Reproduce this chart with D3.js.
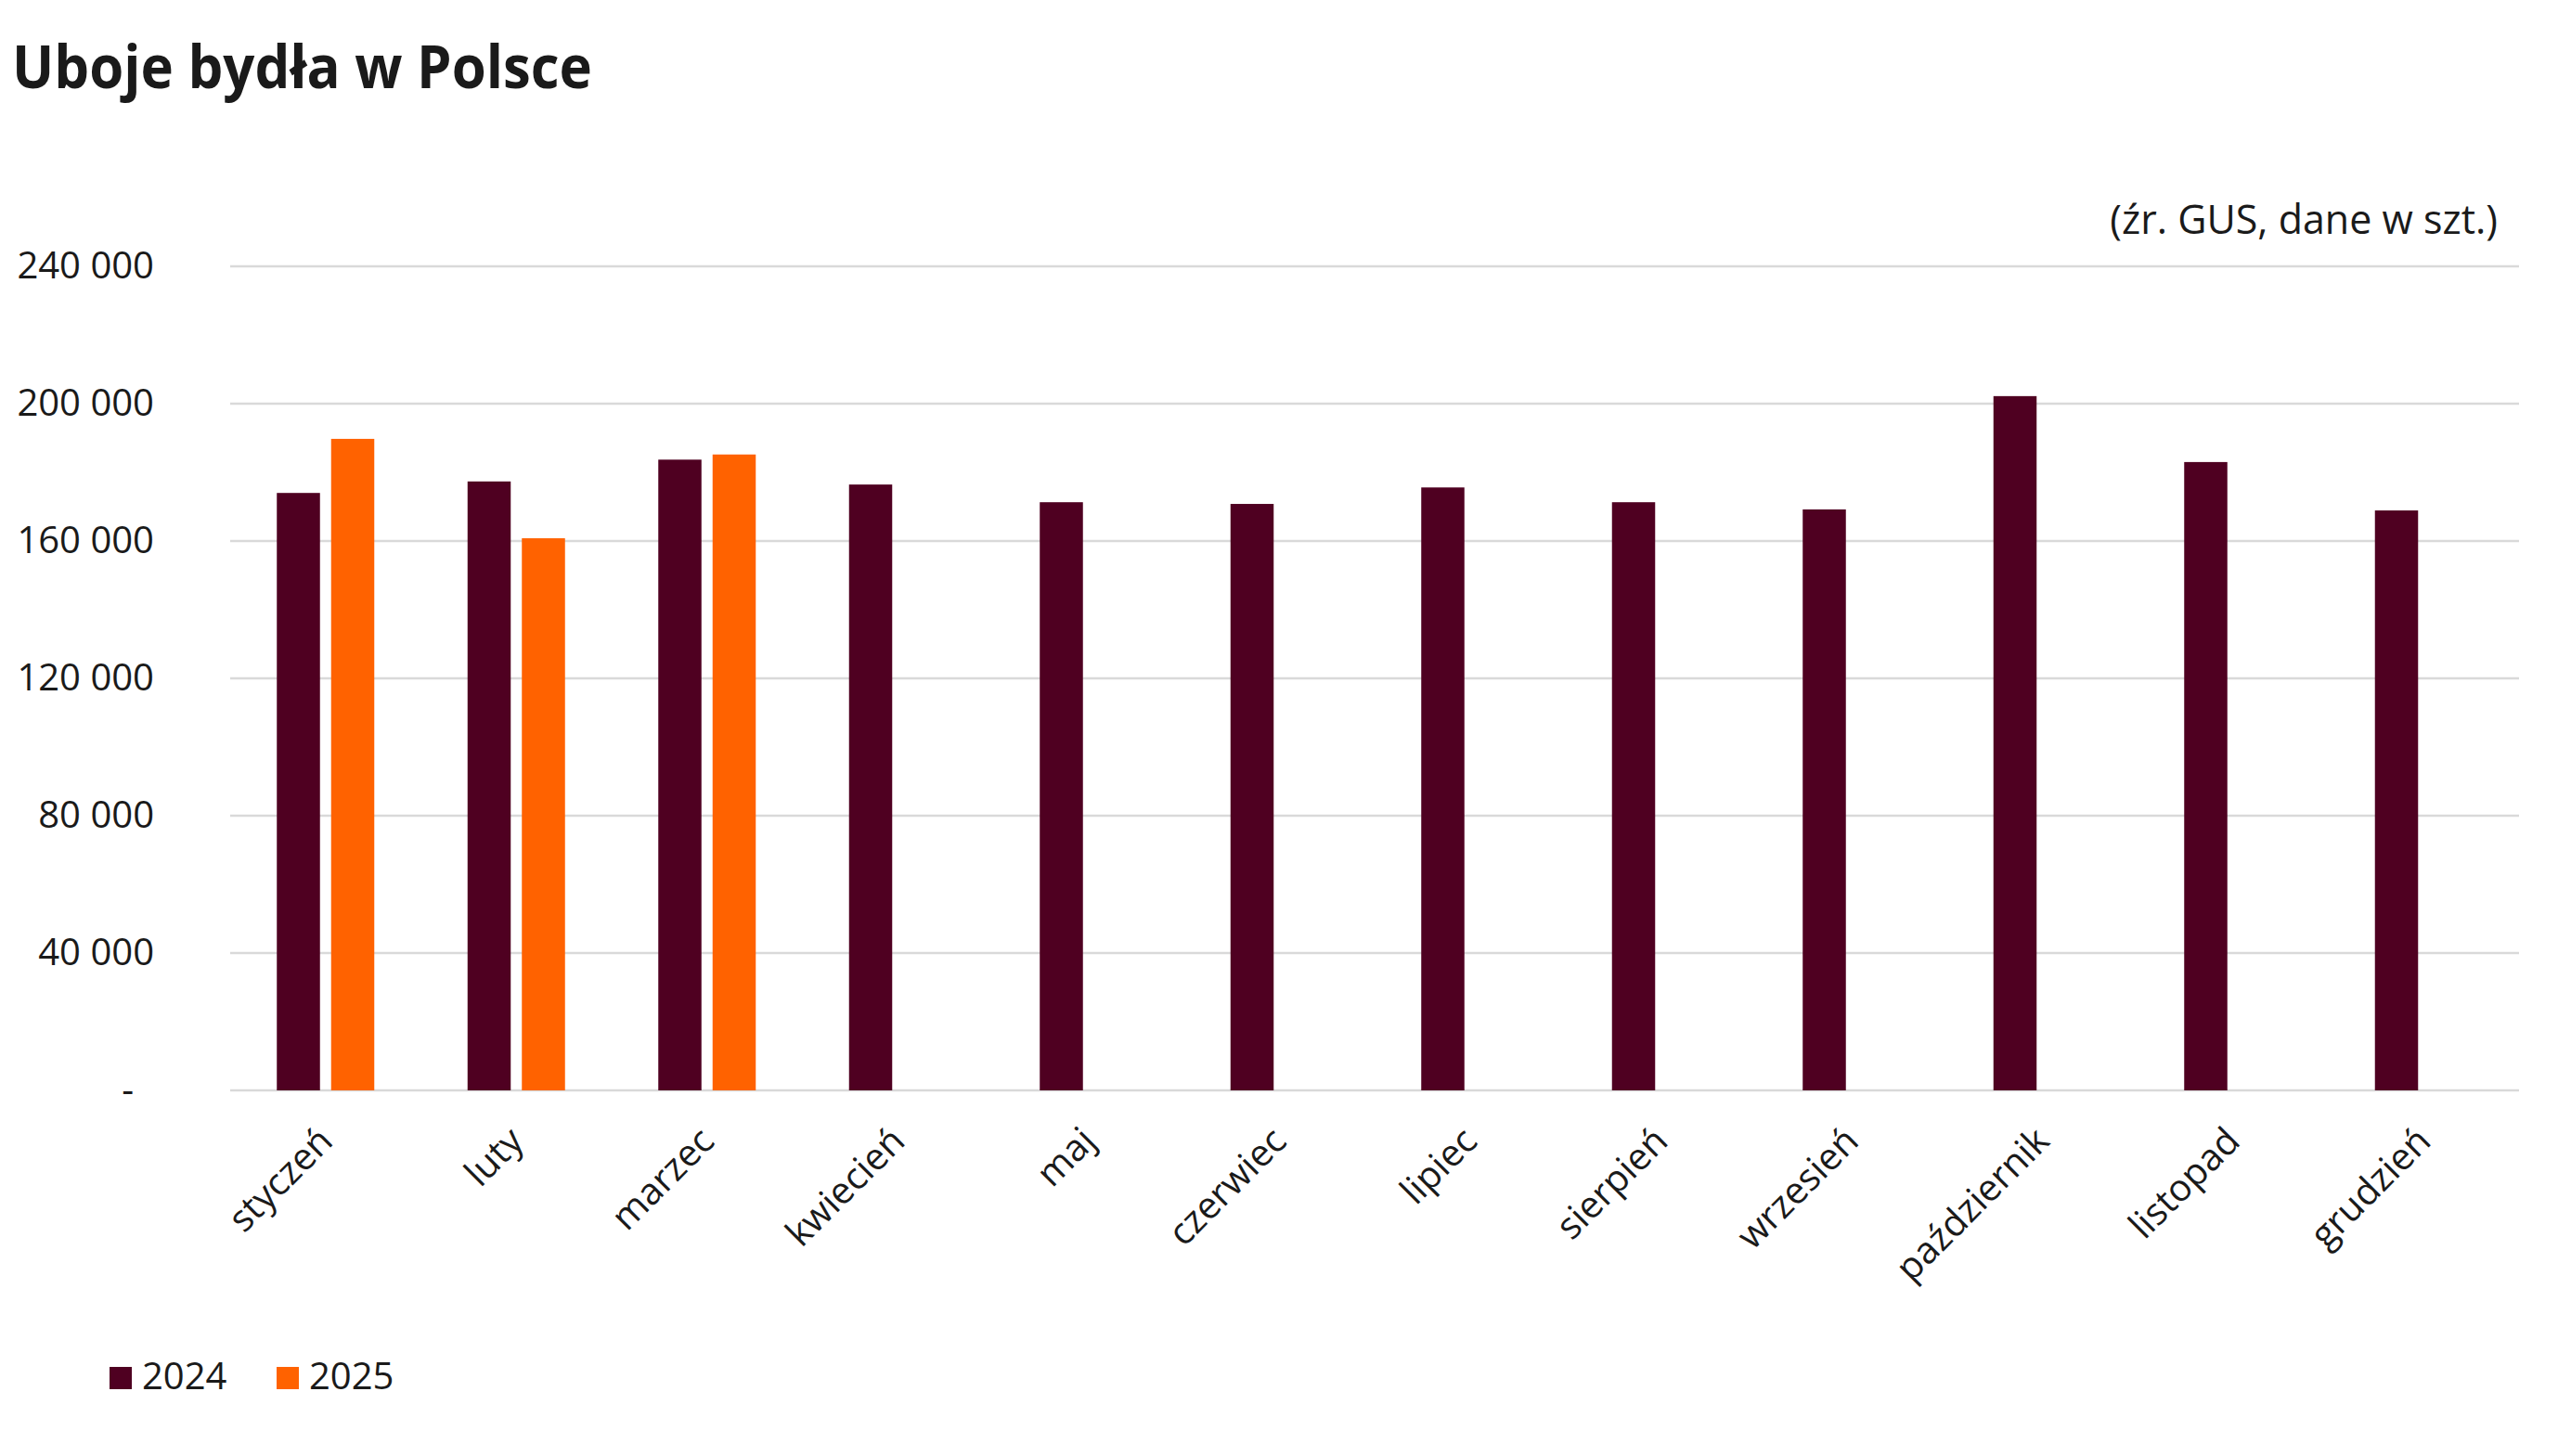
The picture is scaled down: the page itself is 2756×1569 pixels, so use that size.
<!DOCTYPE html>
<html>
<head>
<meta charset="utf-8">
<script src="https://cdn.jsdelivr.net/npm/d3@7"></script>
<style>
  body { margin: 0; background: #fff; }
  text { font-family: "Open Sans", sans-serif; fill: #1a1a1a; }
</style>
</head>
<body>
<div id="chart"></div>
<script>
const months = ["styczeń", "luty", "marzec", "kwiecień", "maj", "czerwiec",
  "lipiec", "sierpień", "wrzesień", "październik", "listopad", "grudzień"];
const series = ["2024", "2025"];
const values2024 = [174000, 177350, 183700, 176450, 171300, 170800, 175600, 171300, 169200, 202200, 183000, 168900];
const values2025 = [189750, 160800, 185200, null, null, null, null, null, null, null, null, null];
const yTicks = [0, 40000, 80000, 120000, 160000, 200000, 240000];

const width = 2756, height = 1569;
const colors = { "2024": "#4f0021", "2025": "#ff6200" };

let svg = d3.select("#chart")
  .append("svg")
    .attr("width", width)
    .attr("height", height);

let x = d3.scaleBand()
  .domain(months)
  .range([248, 2714]);

let x1 = d3.scaleBand()
  .domain(series)
  .range([50.25, 155.25])
  .paddingInner(0.205);

let y = d3.scaleLinear()
  .domain([0, 240000])
  .range([1175, 287]);

// gridlines
svg.append("g")
  .selectAll("line")
  .data(yTicks)
  .enter()
  .append("line")
    .attr("x1", 248)
    .attr("x2", 2714)
    .attr("y1", d => y(d))
    .attr("y2", d => y(d))
    .attr("stroke", "#d9d9d9")
    .attr("stroke-width", 2.5);

// y axis labels
let fmt = d => d === 0 ? "-" : d3.format(",")(d).replace(/,/g, " ");
let yAxis = svg.append("g")
  .attr("transform", "translate(166,0)")
  .call(d3.axisLeft(y).tickValues(yTicks).tickSize(0).tickPadding(0).tickFormat(fmt));
yAxis.select(".domain").remove();
yAxis.selectAll("text")
  .attr("font-size", 40)
  .attr("fill", "#1a1a1a")
  .attr("font-family", "Open Sans, sans-serif")
  .attr("dx", d => d === 0 ? -22 : 0);

// bars
let rows = months.map((m, i) => ({ month: m, "2024": values2024[i], "2025": values2025[i] }));
svg.append("g")
  .selectAll("g")
  .data(rows)
  .enter()
  .append("g")
    .attr("transform", d => "translate(" + x(d.month) + ",0)")
  .selectAll("rect")
  .data(d => series.filter(s => d[s] != null).map(s => ({ key: s, value: d[s] })))
  .enter()
  .append("rect")
    .attr("x", d => x1(d.key))
    .attr("width", x1.bandwidth())
    .attr("y", d => y(d.value))
    .attr("height", d => y(0) - y(d.value))
    .attr("fill", d => colors[d.key]);

// x labels
svg.append("g")
  .selectAll("text")
  .data(months)
  .enter()
  .append("text")
    .attr("transform", d => "translate(" + (x(d) + x.bandwidth() / 2) + ",1222) rotate(-45)")
    .attr("text-anchor", "end")
    .attr("dy", "0.35em")
    .attr("font-size", 40)
    .text(d => d);

// title and note
svg.append("text")
  .attr("x", 13)
  .attr("y", 95)
  .attr("font-size", 64)
  .attr("font-weight", "bold")
  .attr("textLength", 625)
  .attr("lengthAdjust", "spacingAndGlyphs")
  .text("Uboje bydła w Polsce");

svg.append("text")
  .attr("x", 2691)
  .attr("y", 252)
  .attr("text-anchor", "end")
  .attr("font-size", 43)
  .text("(źr. GUS, dane w szt.)");

// legend
let legend = svg.append("g")
  .selectAll("g")
  .data(series)
  .enter()
  .append("g")
    .attr("transform", (d, i) => "translate(" + (118 + i * 180) + ",1473)");
legend.append("rect")
  .attr("width", 24)
  .attr("height", 24)
  .attr("fill", d => colors[d]);
legend.append("text")
  .attr("x", 35)
  .attr("y", 24)
  .attr("font-size", 40)
  .text(d => d);
</script>
</body>
</html>
